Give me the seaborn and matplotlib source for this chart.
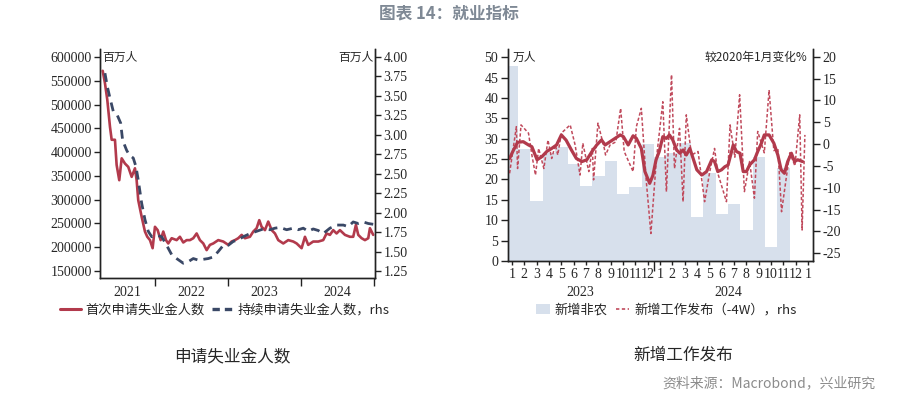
import numpy as np
import pandas as pd
import matplotlib
matplotlib.use("Agg")
import matplotlib.pyplot as plt
import matplotlib.transforms as mtransforms
from matplotlib.lines import Line2D
from matplotlib.patches import Patch
import seaborn as sns

sns.set_style("ticks")
CJK = ['Noto Sans CJK SC', 'DejaVu Sans']
NUM = ['Liberation Serif', 'DejaVu Serif']
plt.rcParams['font.family'] = CJK
plt.rcParams['axes.unicode_minus'] = False

# ---------------- data: left panel (decimal year, value) ----------------
initial_claims = [
    (2021.284, 571000), (2021.315, 545000), (2021.347, 510000), (2021.384, 453000),
    (2021.407, 426000), (2021.452, 426000), (2021.475, 373000), (2021.511, 341000),
    (2021.544, 387000), (2021.589, 376000), (2021.634, 369000), (2021.681, 348000),
    (2021.726, 366000), (2021.749, 341000), (2021.771, 299000), (2021.818, 264000),
    (2021.863, 233000), (2021.895, 222000), (2021.932, 215000), (2021.968, 198000),
    (2022.000, 243000), (2022.037, 236000), (2022.078, 215000), (2022.114, 233000),
    (2022.151, 215000), (2022.182, 208000), (2022.229, 219000), (2022.297, 215000),
    (2022.342, 222000), (2022.388, 210000), (2022.434, 215000), (2022.479, 215000),
    (2022.525, 219000), (2022.571, 229000), (2022.616, 215000), (2022.662, 208000),
    (2022.708, 194000), (2022.753, 205000), (2022.799, 208000), (2022.867, 215000),
    (2022.936, 212000), (2023.004, 205000), (2023.050, 212000), (2023.096, 215000),
    (2023.141, 219000), (2023.188, 226000), (2023.233, 219000), (2023.301, 222000),
    (2023.347, 233000), (2023.393, 240000), (2023.429, 257000), (2023.461, 243000),
    (2023.507, 236000), (2023.552, 254000), (2023.599, 236000), (2023.644, 229000),
    (2023.689, 215000), (2023.758, 208000), (2023.826, 215000), (2023.895, 212000),
    (2023.941, 208000), (2024.009, 198000), (2024.055, 222000), (2024.100, 205000),
    (2024.168, 212000), (2024.237, 212000), (2024.305, 215000), (2024.351, 229000),
    (2024.397, 226000), (2024.442, 236000), (2024.488, 229000), (2024.534, 236000),
    (2024.603, 226000), (2024.671, 222000), (2024.716, 222000), (2024.753, 247000),
    (2024.785, 226000), (2024.831, 219000), (2024.877, 215000), (2024.922, 219000),
    (2024.945, 240000), (2024.990, 226000),
]
continuing_claims = [
    (2021.315, 3.79), (2021.347, 3.62), (2021.384, 3.47), (2021.429, 3.30),
    (2021.484, 3.25), (2021.530, 3.15), (2021.557, 2.93), (2021.612, 2.80),
    (2021.648, 2.74), (2021.703, 2.70), (2021.740, 2.59), (2021.771, 2.42),
    (2021.818, 2.12), (2021.863, 1.91), (2021.908, 1.76), (2021.955, 1.69),
    (2022.023, 1.71), (2022.092, 1.69), (2022.160, 1.58), (2022.229, 1.46),
    (2022.297, 1.41), (2022.388, 1.35), (2022.456, 1.37), (2022.525, 1.41),
    (2022.593, 1.39), (2022.662, 1.40), (2022.730, 1.41), (2022.799, 1.43),
    (2022.867, 1.50), (2022.936, 1.58), (2023.004, 1.58), (2023.073, 1.63),
    (2023.141, 1.65), (2023.210, 1.69), (2023.301, 1.73), (2023.393, 1.76),
    (2023.484, 1.79), (2023.575, 1.78), (2023.644, 1.80), (2023.712, 1.81),
    (2023.804, 1.78), (2023.895, 1.80), (2023.963, 1.78), (2024.032, 1.80),
    (2024.100, 1.76), (2024.168, 1.79), (2024.237, 1.77), (2024.305, 1.73),
    (2024.397, 1.80), (2024.488, 1.84), (2024.580, 1.84), (2024.648, 1.82),
    (2024.716, 1.88), (2024.785, 1.86), (2024.853, 1.88), (2024.922, 1.86),
    (2024.990, 1.85),
]
left_year_labels = ['2021', '2022', '2023', '2024']

# ---------------- data: right panel ----------------
nfp_months = ['2023-01', '2023-02', '2023-03', '2023-04', '2023-05', '2023-06',
              '2023-07', '2023-08', '2023-09', '2023-10', '2023-11', '2023-12',
              '2024-01', '2024-02', '2024-03', '2024-04', '2024-05', '2024-06',
              '2024-07', '2024-08', '2024-09', '2024-10', '2024-11']
nfp = [47.9, 27.5, 14.7, 26.5, 28.0, 23.9, 18.4, 20.8, 24.5, 16.4, 18.1, 28.8,
       25.6, 26.5, 29.0, 10.7, 21.6, 11.5, 14.1, 7.6, 25.4, 3.5, 22.7]

postings_weekly = [
    ('2023-01-10', -6.7), ('2023-01-27', 4.0), ('2023-01-30', -5.6), ('2023-02-07', 4.4),
    ('2023-02-24', 2.5), ('2023-03-04', -2.5), ('2023-03-13', -7.1), ('2023-03-21', -1.0),
    ('2023-04-03', -5.6), ('2023-04-13', 0.95), ('2023-04-22', -3.3), ('2023-05-01', -0.2),
    ('2023-05-07', -2.5), ('2023-05-16', 2.5), ('2023-06-07', 4.4), ('2023-06-19', -0.2),
    ('2023-07-01', -7.1), ('2023-07-08', 0.2), ('2023-07-23', -6.3), ('2023-08-01', -1.0),
    ('2023-08-04', -8.2), ('2023-08-15', 4.8), ('2023-08-31', -1.0), ('2023-09-03', -2.5),
    ('2023-09-14', -0.2), ('2023-09-28', 0.5), ('2023-10-10', 8.2), ('2023-10-19', -1.7),
    ('2023-11-10', -6.3), ('2023-11-18', 4.0), ('2023-11-30', 8.2), ('2023-12-12', -8.0),
    ('2023-12-24', -20.5), ('2024-01-07', -3.3), ('2024-01-23', 9.7), ('2024-02-01', -10.9),
    ('2024-02-13', 15.9), ('2024-02-20', -5.6), ('2024-03-03', 3.6), ('2024-03-12', -13.2),
    ('2024-03-20', 6.7), ('2024-04-02', -2.5), ('2024-04-18', -1.7), ('2024-05-04', -13.2),
    ('2024-05-17', -6.3), ('2024-05-29', -1.0), ('2024-06-06', -6.7), ('2024-06-27', -13.2),
    ('2024-07-06', 4.4), ('2024-07-18', -3.0), ('2024-07-30', 11.3), ('2024-08-11', -10.9),
    ('2024-08-24', -4.0), ('2024-09-05', -12.4), ('2024-09-13', 2.9), ('2024-09-29', -2.0),
    ('2024-10-11', 12.4), ('2024-10-23', -1.5), ('2024-11-02', -1.0), ('2024-11-11', -15.5),
    ('2024-11-24', -6.7), ('2024-12-01', -2.0), ('2024-12-14', -5.0), ('2024-12-26', 6.7),
    ('2025-01-01', -19.7), ('2025-01-08', 2.1),
]
postings_4w = [
    ('2023-01-10', -3.3), ('2023-01-18', -1.7), ('2023-01-30', 0.4), ('2023-02-12', 0.55),
    ('2023-02-24', -0.2), ('2023-03-04', -0.6), ('2023-03-17', -3.6), ('2023-03-29', -2.9),
    ('2023-04-10', -1.7), ('2023-04-22', -1.0), ('2023-05-04', -0.2), ('2023-05-16', 2.1),
    ('2023-05-28', 0.9), ('2023-06-10', -1.35), ('2023-06-22', -3.3), ('2023-07-06', -4.0),
    ('2023-07-18', -3.6), ('2023-07-31', -1.7), ('2023-08-12', -0.2), ('2023-08-24', 0.95),
    ('2023-09-02', -0.2), ('2023-09-14', 0.55), ('2023-09-26', 1.3), ('2023-10-09', 2.1),
    ('2023-10-17', 1.7), ('2023-10-29', -0.2), ('2023-11-10', 1.9), ('2023-11-18', 1.3),
    ('2023-11-30', -1.0), ('2023-12-09', -6.3), ('2023-12-21', -9.0), ('2023-12-29', -7.2),
    ('2024-01-06', -3.6), ('2024-01-14', -1.7), ('2024-01-23', 1.7), ('2024-02-01', 1.3),
    ('2024-02-08', 2.1), ('2024-02-16', 0.95), ('2024-02-25', -1.35), ('2024-03-04', -2.1),
    ('2024-03-12', -1.35), ('2024-03-20', -2.5), ('2024-03-29', -1.0), ('2024-04-06', -3.3),
    ('2024-04-15', -5.9), ('2024-04-27', -7.1), ('2024-05-09', -6.3), ('2024-05-22', -3.6),
    ('2024-05-29', -4.0), ('2024-06-06', -6.3), ('2024-06-15', -5.9), ('2024-06-23', -5.2),
    ('2024-07-01', -4.8), ('2024-07-14', -0.2), ('2024-07-22', -1.7), ('2024-07-31', -2.1),
    ('2024-08-08', -6.3), ('2024-08-16', -6.3), ('2024-08-24', -4.8), ('2024-09-05', -3.6),
    ('2024-09-13', -1.7), ('2024-09-22', 0.2), ('2024-09-29', 2.1), ('2024-10-11', 2.1),
    ('2024-10-23', 0.2), ('2024-11-02', -2.5), ('2024-11-10', -5.9), ('2024-11-18', -6.7),
    ('2024-11-26', -4.0), ('2024-12-05', -2.1), ('2024-12-13', -4.0), ('2024-12-21', -3.6),
    ('2025-01-02', -4.0),
]
month_labels = [str(m) for m in range(1, 13)] * 2 + ['1']
right_year_labels = ['2023', '2024']

# ---------------- helpers ----------------
RED = '#b23a4c'
NAVY = '#3a4866'
BAR = '#d7e0ec'
DRED = '#c04a5c'


def dec_date(s):
    t = pd.Timestamp(s)
    return t.year + (t.month - 1 + (t.day - 0.5) / t.days_in_month) / 12.0


def dec_month(s):
    t = pd.Timestamp(s + '-01')
    return t.year + (t.month - 0.5) / 12.0


def num_font(ax, size=10):
    for lab in ax.get_xticklabels(which='both') + ax.get_yticklabels(which='both'):
        lab.set_fontfamily(NUM)
        lab.set_fontsize(size)


fig = plt.figure(figsize=(9.09, 3.97), dpi=100)

# ================= LEFT PANEL =================
axL = fig.add_axes([0.1100, 0.2997, 0.3025, 0.5768])
cx, cy = zip(*initial_claims)
sns.lineplot(x=list(cx), y=list(cy), ax=axL, color=RED, lw=1.9, estimator=None)
axL2 = axL.twinx()
kx, ky = zip(*continuing_claims)
sns.lineplot(x=list(kx), y=list(ky), ax=axL2, color=NAVY, lw=2.0,
             linestyle=(0, (3.2, 2.2)), estimator=None)

axL.set_xlim(2021.247, 2025.014)
axL.set_ylim(135300, 616800)
axL2.set_ylim(1.16, 4.10)
axL.set_yticks(np.arange(150000, 600001, 50000))
axL.set_yticklabels([str(v) for v in range(150000, 600001, 50000)])
axL2.set_yticks(np.arange(1.25, 4.001, 0.25))
axL2.set_yticklabels([f"{v:.2f}" for v in np.arange(1.25, 4.001, 0.25)])
axL.set_xticks([2022, 2023, 2024, 2025])
axL.set_xticklabels([])
axL.set_xticks([2021.62, 2022.5, 2023.5, 2024.5], minor=True)
axL.set_xticklabels(left_year_labels, minor=True)
axL.tick_params(axis='x', which='major', direction='out', length=6, width=1, color='#222')
axL.tick_params(axis='x', which='minor', length=0, pad=6)
axL.tick_params(axis='y', direction='out', length=4, width=1, color='#222', pad=2)
axL2.tick_params(axis='y', direction='out', length=4, width=1, color='#222', pad=2)
for a in (axL, axL2):
    a.set_xlabel('')
    a.set_ylabel('')
    a.spines['top'].set_visible(False)
    for s in ('left', 'right', 'bottom'):
        a.spines[s].set_color('#222')
        a.spines[s].set_linewidth(1.0)
num_font(axL)
num_font(axL2)
axL.text(0.008, 0.965, '百万人', transform=axL.transAxes, ha='left', va='center',
         fontsize=8.5, family=CJK)
axL.text(0.993, 0.965, '百万人', transform=axL.transAxes, ha='right', va='center',
         fontsize=8.5, family=CJK)

# ================= RIGHT PANEL =================
axR = fig.add_axes([0.5589, 0.3426, 0.3355, 0.5340])
bx = [dec_month(m) for m in nfp_months]
sns.barplot(x=bx, y=nfp, native_scale=True, width=1.0, color=BAR, saturation=1,
            errorbar=None, linewidth=0, ax=axR)
axR2 = axR.twinx()
px, pv = zip(*postings_weekly)
sns.lineplot(x=[dec_date(d) for d in px], y=list(pv), ax=axR2, color=DRED, lw=1.1,
             linestyle=(0, (2.2, 1.4)), estimator=None)
sx, sv = zip(*postings_4w)
sns.lineplot(x=[dec_date(d) for d in sx], y=list(sv), ax=axR2, color=RED, lw=2.3,
             estimator=None)

axR.set_xlim(2023.015, 2025.075)
axR.set_ylim(0, 52)
axR2.set_ylim(-26.8, 21.8)
axR.set_yticks(np.arange(0, 51, 5))
axR.set_yticklabels([str(v) for v in range(0, 51, 5)])
axR2.set_yticks(np.arange(-25, 21, 5))
axR2.set_yticklabels([str(v) for v in range(-25, 21, 5)])
mpos = [2023 + (i + 0.5) / 12.0 for i in range(25)]
axR.set_xticks(mpos)
axR.set_xticklabels(month_labels)
axR.set_xticks([2024.0], minor=True)
axR.tick_params(axis='x', which='major', direction='out', length=3, width=1, color='#222', pad=2)
axR.tick_params(axis='x', which='minor', direction='out', length=7, width=1, color='#222')
axR.tick_params(axis='y', direction='out', length=5, width=1, color='#222', pad=2)
axR2.tick_params(axis='y', direction='out', length=5, width=1, color='#222', pad=2)
for a in (axR, axR2):
    a.set_xlabel('')
    a.set_ylabel('')
    a.spines['top'].set_visible(False)
    for s in ('left', 'right', 'bottom'):
        a.spines[s].set_color('#222')
        a.spines[s].set_linewidth(1.0)
num_font(axR, 10)
num_font(axR2, 10)
trans = mtransforms.blended_transform_factory(axR.transData, axR.transAxes)
for lab, xc in zip(right_year_labels, [2023.5, 2024.5]):
    axR.text(xc, -0.151, lab, transform=trans, ha='center', va='center',
             fontsize=10, family=NUM)
axR.text(0.016, 0.962, '万人', transform=axR.transAxes, ha='left', va='center',
         fontsize=8.5, family=CJK)
axR.text(0.98, 0.962, '较2020年1月变化%', transform=axR.transAxes, ha='right',
         va='center', fontsize=8.5, family=CJK)

# ================= legends & texts =================
hL = [Line2D([], [], color=RED, lw=2.2),
      Line2D([], [], color=NAVY, lw=2.4, linestyle=(0, (2.2, 1.5)))]
fig.legend(hL, ['首次申请失业金人数', '持续申请失业金人数，rhs'], loc='center left',
           bbox_to_anchor=(0.066, 0.219), ncol=2, frameon=False, fontsize=9.5,
           handlelength=1.6, handletextpad=0.3, columnspacing=0.6, borderpad=0,
           borderaxespad=0, prop={'family': CJK, 'size': 9.5})
hR = [Patch(facecolor=BAR, edgecolor='none'),
      Line2D([], [], color=DRED, lw=1.2, linestyle=(0, (2.0, 1.5)))]
fig.legend(hR, ['新增非农', '新增工作发布（-4W），rhs'], loc='center left',
           bbox_to_anchor=(0.590, 0.219), ncol=2, frameon=False,
           handlelength=1.0, handleheight=0.9, handletextpad=0.4, columnspacing=0.6,
           borderpad=0, borderaxespad=0, prop={'family': CJK, 'size': 9.5})

fig.text(0.494, 0.965, '图表 14：就业指标', ha='center', va='center', fontsize=12,
         fontweight='bold', color='#7f8995', family=CJK)
fig.text(232 / 909, 1 - 357 / 397, '申请失业金人数', ha='center', va='center',
         fontsize=12, family=CJK)
fig.text(683 / 909, 1 - 355 / 397, '新增工作发布', ha='center', va='center',
         fontsize=12, family=CJK)
fig.text(662 / 909, 1 - 383 / 397, '资料来源：Macrobond，兴业研究', ha='left',
         va='center', fontsize=10, color='#8c8c8c', family=CJK)

fig.savefig('out.png', dpi=100)
